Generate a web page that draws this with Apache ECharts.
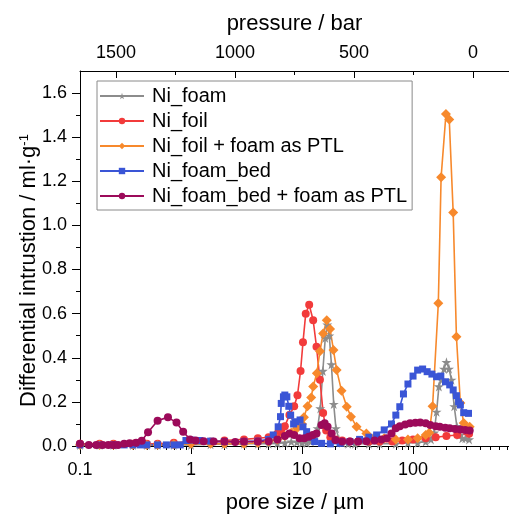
<!DOCTYPE html>
<html><head><meta charset="utf-8">
<script src="https://cdn.jsdelivr.net/npm/echarts@6/dist/echarts.min.js"></script>
<style>html,body{margin:0;padding:0;background:#fff}#c{width:509px;height:515px}</style>
</head><body><div id="c"></div>
<script>
// ---- data (pore size in µm, differential intrusion in ml/g) ----
const seriesNames = ['Ni_foam', 'Ni_foil', 'Ni_foil + foam as PTL', 'Ni_foam_bed', 'Ni_foam_bed + foam as PTL'];

const foamD = [0.1,0.15,0.2,0.3,0.4,0.5,0.7,1,1.5,2,3,4,5,6,7,8,9,10,11,12,13,13.8,14.6,15.4,16.2,16.9,17.6,18.4,19.3,20.2,21.5,23,26,30,40,50,70,90,110,130,145,155,163,171,180,190,200,211,222,235,248,262,278,296,320];
const foamV = [0.005,0.005,0.005,0.005,0.005,0.005,0.005,0.005,0.008,0.008,0.01,0.01,0.01,0.012,0.015,0.02,0.018,0.015,0.015,0.02,0.04,0.08,0.17,0.34,0.49,0.55,0.50,0.37,0.19,0.08,0.03,0.015,0.01,0.01,0.01,0.01,0.01,0.015,0.015,0.02,0.03,0.06,0.155,0.27,0.30,0.35,0.38,0.35,0.30,0.18,0.09,0.05,0.035,0.035,0.03];

const foilD = [0.1,0.15,0.2,0.3,0.4,0.5,0.7,1,1.5,2,3,4,5,6,6.5,7,7.7,8.5,9.1,9.7,10.2,10.8,11.6,12.6,13.5,14.5,15.5,16.5,18,20,23,27,32,40,50,65,80,100,130,160,200,250,320];
const foilV = [0.01,0.01,0.01,0.01,0.01,0.01,0.015,0.02,0.02,0.025,0.03,0.035,0.04,0.055,0.07,0.09,0.14,0.18,0.23,0.34,0.47,0.60,0.64,0.57,0.45,0.30,0.15,0.07,0.04,0.03,0.025,0.02,0.02,0.02,0.02,0.02,0.025,0.03,0.035,0.04,0.045,0.05,0.055];

const foilPtlD = [0.1,0.15,0.2,0.3,0.4,0.5,0.7,1,1.5,2,3,4,5,6,7,8,9,10,10.4,11.2,12.1,12.6,13.6,14.5,15.5,16.7,17.9,19.2,20.5,22.7,25.3,27.6,31,38,45,55,70,90,110,130,140,150,169,179,198,212,230,246,267,286,324];
const foilPtlV = [0.005,0.005,0.005,0.005,0.005,0.005,0.008,0.01,0.01,0.01,0.01,0.015,0.02,0.03,0.045,0.06,0.08,0.10,0.13,0.18,0.22,0.27,0.33,0.43,0.51,0.57,0.53,0.435,0.345,0.25,0.178,0.133,0.087,0.057,0.04,0.035,0.03,0.03,0.035,0.05,0.06,0.18,0.647,1.218,1.505,1.48,1.058,0.495,0.195,0.104,0.087];

const bedD = [0.1,0.15,0.2,0.25,0.3,0.35,0.4,0.5,0.6,0.7,0.8,0.9,1,1.2,1.5,2,3,4,5,5.5,6.1,6.4,6.5,6.8,7.0,7.3,7.6,7.9,8.4,8.8,9.6,10.2,11,12,13,15,18,22,27,33,40,47,55,64,70,76,82,90,100,110,122,134,148,163,178,196,214,230,246,257,267,286,316];
const bedV = [0.005,0.005,0.005,0.005,0.005,0.005,0.005,0.005,0.005,0.005,0.005,0.025,0.027,0.025,0.022,0.02,0.02,0.022,0.03,0.05,0.087,0.133,0.193,0.223,0.231,0.223,0.18,0.14,0.10,0.11,0.118,0.087,0.065,0.04,0.02,0.012,0.01,0.012,0.02,0.03,0.04,0.05,0.073,0.10,0.14,0.178,0.236,0.281,0.317,0.344,0.349,0.337,0.326,0.314,0.317,0.291,0.277,0.254,0.228,0.2,0.186,0.151,0.148];

const bedPtlD = [0.1,0.12,0.14,0.16,0.18,0.2,0.22,0.25,0.28,0.32,0.36,0.41,0.5,0.62,0.74,0.85,0.98,1.1,1.3,1.6,2,2.5,3,4,5,6,7,7.7,8.5,9.5,10.5,11.5,12.5,13.5,15,16,17,18.5,20,23,27,32,38,45,52,58,64,70,76,85,94,105,116,130,143,160,174,195,214,240,267,295,324];
const bedPtlV = [0.01,0.005,0.005,0.005,0.005,0.005,0.005,0.01,0.012,0.015,0.024,0.062,0.115,0.13,0.106,0.065,0.03,0.025,0.022,0.02,0.02,0.018,0.02,0.02,0.022,0.03,0.045,0.057,0.05,0.035,0.035,0.042,0.05,0.057,0.095,0.103,0.087,0.057,0.027,0.02,0.02,0.02,0.022,0.025,0.03,0.035,0.057,0.08,0.09,0.097,0.103,0.105,0.106,0.103,0.095,0.09,0.087,0.083,0.08,0.077,0.075,0.072,0.07];

// ---- axis tick values ----
const poreMajor = [0.1, 1, 10, 100];
const poreMinor = [0.2,0.3,0.4,0.5,0.6,0.7,0.8,0.9,2,3,4,5,6,7,8,9,20,30,40,50,60,70,80,90,200,300,400,500,600,700];
const pressMajor = [0, 500, 1000, 1500];
const pressMinor = [250, 750, 1250];
const yMajor = [0, 0.2, 0.4, 0.6, 0.8, 1.0, 1.2, 1.4, 1.6];
const yMinor = [0.1, 0.3, 0.5, 0.7, 0.9, 1.1, 1.3, 1.5];

const colors = ['#8c8c8c', '#f23b3b', '#f7892c', '#3a55d6', '#9c0a5a'];
const star = 'path://M50,0 L61,35 L98,35 L68,57 L79,91 L50,70 L21,91 L32,57 L2,35 L39,35 Z';
const symbols = [star, 'circle', 'diamond', 'rect', 'circle'];
const symbolSizes = [10, 8, 10, 7, 8];

function pairs(d, v) { return d.map((x, i) => [x, v[i]]); }
const dataSets = [pairs(foamD, foamV), pairs(foilD, foilV), pairs(foilPtlD, foilPtlV), pairs(bedD, bedV), pairs(bedPtlD, bedPtlV)];

const font = 'Liberation Sans, Arial, sans-serif';
const black = '#000';
const fmtPore = v => (v < 1 ? v.toFixed(1) : String(Math.round(v)));

const chart = echarts.init(document.getElementById('c'), null, {renderer: 'canvas'});

const lineSeries = seriesNames.map((n, i) => ({
  name: n, type: 'line', xAxisIndex: 0, yAxisIndex: 0,
  data: dataSets[i],
  symbol: symbols[i], symbolSize: symbolSizes[i], showSymbol: true,
  lineStyle: {color: colors[i], width: 1.6},
  itemStyle: {color: colors[i]},
  emphasis: {disabled: true}
}));

// bottom tick labels placed through the log axis scale
const tickLabelSeries = {
  type: 'custom', coordinateSystem: 'cartesian2d', xAxisIndex: 0, yAxisIndex: 0,
  clip: false, silent: true, z: 10, tooltip: {show: false},
  data: poreMajor.map(v => [v, 0]),
  encode: {x: 0, y: 1},
  renderItem: (params, api) => {
    const p = api.coord([api.value(0), api.value(1)]);
    return {
      type: 'text', x: p[0], y: p[1] + 24, silent: true,
      style: {text: fmtPore(api.value(0)), fontSize: 18, fontFamily: font, fill: black,
        align: 'center', verticalAlign: 'middle', textAlign: 'center', textVerticalAlign: 'middle'}
    };
  }
};

chart.setOption({
  animation: false,
  backgroundColor: '#fff',
  textStyle: {fontFamily: font},
  grid: {left: 80, right: 0, top: 71, bottom: 69, containLabel: false, outerBoundsMode: 'none'},
  legend: {
    orient: 'vertical', left: 97, top: 81,
    itemWidth: 44, itemHeight: 8, itemGap: 5,
    borderColor: '#8a8a8a', borderWidth: 1, padding: [5, 5, 4, 2],
    textStyle: {fontSize: 20, color: black, fontFamily: font, lineHeight: 20, padding: [0, 0, 0, 3]},
    data: seriesNames
  },
  graphic: [{
    type: 'text', x: 295, y: 503, silent: true,
    style: {text: 'pore size / µm', fontSize: 22, fontFamily: font, fill: black,
      align: 'center', verticalAlign: 'middle', textAlign: 'center', textVerticalAlign: 'middle'}
  }],
  xAxis: [
    {type: 'log', logBase: 10, min: 0.1, max: 732, position: 'bottom',
     axisLine: {show: true, onZero: false, lineStyle: {color: black, width: 1}},
     axisTick: {show: true, customValues: poreMajor, length: 8, lineStyle: {color: black}},
     axisLabel: {show: false},
     splitLine: {show: false}},
    {type: 'log', logBase: 10, min: 0.1, max: 732, position: 'bottom',
     axisLine: {show: false, onZero: false},
     axisTick: {show: true, customValues: poreMinor, length: 4, lineStyle: {color: black}},
     axisLabel: {show: false}, splitLine: {show: false}},
    {type: 'value', min: -151, max: 1651, inverse: true, position: 'top',
     axisLine: {show: true, onZero: false, lineStyle: {color: black, width: 1}},
     axisTick: {show: true, inside: true, customValues: pressMajor, length: 7, lineStyle: {color: black}},
     axisLabel: {customValues: pressMajor, fontSize: 18, color: black, margin: 9, formatter: v => String(v)},
     splitLine: {show: false},
     name: 'pressure / bar', nameLocation: 'middle', nameGap: 36, nameMoveOverlap: false,
     nameTextStyle: {fontSize: 22, color: black}},
    {type: 'value', min: -151, max: 1651, inverse: true, position: 'top',
     axisLine: {show: false, onZero: false},
     axisTick: {show: true, inside: true, customValues: pressMinor, length: 4, lineStyle: {color: black}},
     axisLabel: {show: false}, splitLine: {show: false}}
  ],
  yAxis: [
    {type: 'value', min: 0, max: 1.7, position: 'left',
     axisLine: {show: true, onZero: false, lineStyle: {color: black, width: 1}},
     axisTick: {show: true, customValues: yMajor, length: 8, lineStyle: {color: black}},
     axisLabel: {customValues: yMajor, fontSize: 18, color: black, margin: 13, formatter: v => v.toFixed(1)},
     splitLine: {show: false},
     name: 'Differential intrustion / ml·g{sup|-1}', nameLocation: 'middle', nameGap: 40, nameMoveOverlap: false,
     nameTextStyle: {fontSize: 22, color: black, padding: [0, 24, 0, 0],
       rich: {sup: {fontSize: 13, verticalAlign: 'top', color: black, padding: [0, 0, 9, 0]}}}},
    {type: 'value', min: 0, max: 1.7, position: 'left',
     axisLine: {show: false, onZero: false},
     axisTick: {show: true, customValues: yMinor, length: 4, lineStyle: {color: black}},
     axisLabel: {show: false}, splitLine: {show: false}}
  ],
  series: lineSeries.concat([tickLabelSeries])
});
</script></body></html>
